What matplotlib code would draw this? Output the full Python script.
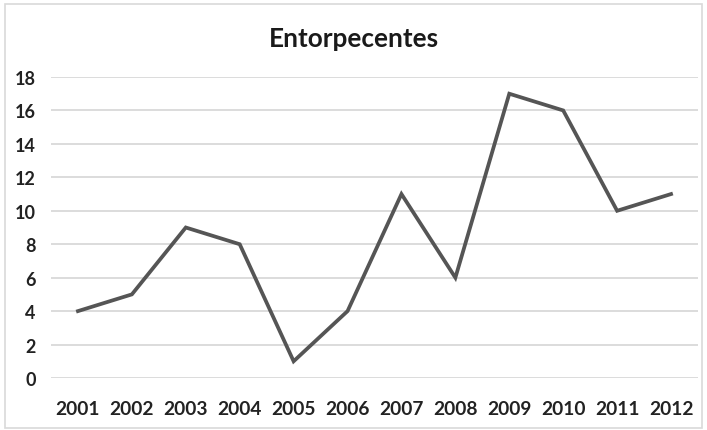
import matplotlib.pyplot as plt
from matplotlib.patches import Rectangle

years = ["2001", "2002", "2003", "2004", "2005", "2006",
         "2007", "2008", "2009", "2010", "2011", "2012"]
counts = [4, 5, 9, 8, 1, 4, 11, 6, 17, 16, 10, 11]
y_ticks = [0, 2, 4, 6, 8, 10, 12, 14, 16, 18]

plt.rcParams["font.family"] = ["Lato", "DejaVu Sans"]

W, H = 707, 431
fig = plt.figure(figsize=(W / 100, H / 100), dpi=100)

# plot area in pixel coords: x 51..698, y 78..379
ax = fig.add_axes([51 / W, 1 - 379 / H, (698 - 51) / W, (379 - 78) / H])

x = list(range(len(years)))
ax.plot(x, counts, color="#555555", linewidth=2.7, solid_joinstyle="miter")

ax.set_xlim(-0.5, len(years) - 0.5)
ax.set_ylim(0, 18)
ax.set_yticks(y_ticks)
ax.set_xticks(x)
ax.set_xticklabels(years)
ax.grid(axis="y", color="#d9d9d9", linewidth=1.3)
ax.set_axisbelow(True)
for s in ax.spines.values():
    s.set_visible(False)
ax.tick_params(length=0, labelsize=13.8, labelcolor="#222222")
ax.tick_params(axis="x", pad=16)
ax.tick_params(axis="y", pad=11, labelsize=13)
for lbl in ax.get_xticklabels() + ax.get_yticklabels():
    lbl.set_fontweight("bold")

fig.text(0.5, 1 - 39 / H, "Entorpecentes", ha="center", va="center",
         fontsize=18.8, fontweight="bold", color="#1a1a1a")

# chart border
fig.patches.append(Rectangle((5 / W, 1 - 429 / H), 697 / W, 424 / H,
                             transform=fig.transFigure, fill=False,
                             edgecolor="#d9d9d9", linewidth=1.2))

fig.savefig("out.png", dpi=100)
